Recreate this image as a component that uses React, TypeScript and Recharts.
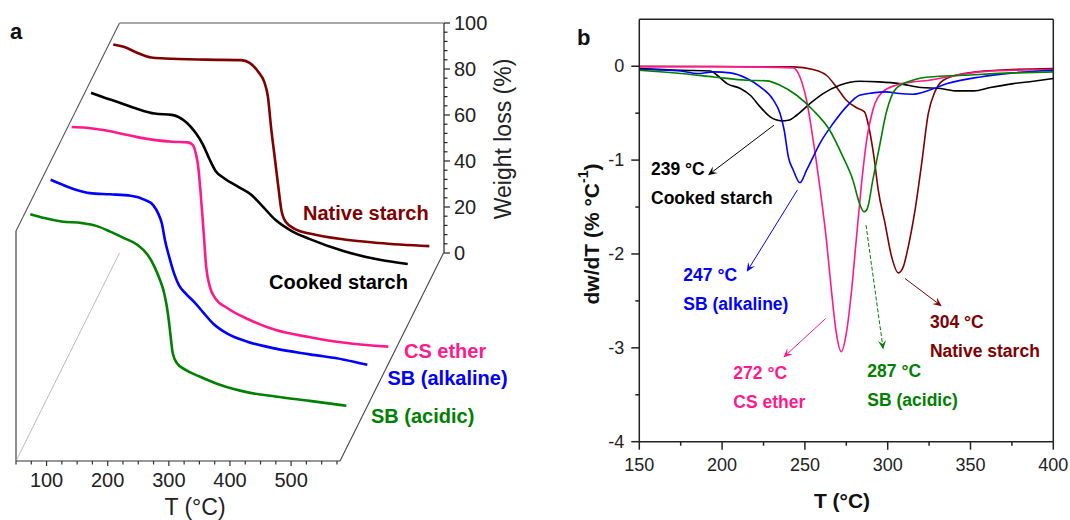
import React from 'react';
import { LineChart, Line, XAxis, YAxis, ReferenceLine, ReferenceDot } from 'recharts';

const FONT = "'Liberation Sans', Arial, sans-serif";

// ---- panel a: TGA curves, [T (°C), weight (%)] ----
const tgaNative = [[57, 99.8], [74, 98.8], [97, 96.1], [119, 94.1], [142, 93.7], [209, 93.2], [266, 93], [280, 91.8], [294, 87.9], [304, 83.5], [310, 77], [315, 64], [321, 50.9], [327, 37.9], [332, 27.7], [339, 22.7], [356, 19.3], [378, 17.6], [435, 15], [491, 13.5], [574, 12.1]];
const tgaCooked = [[55, 96.6], [74, 94.8], [103, 92.2], [131, 89.6], [159, 87.6], [187, 87], [198, 86.1], [212, 83.5], [226, 79.2], [238, 74.1], [249, 67.6], [259, 62.5], [272, 59.6], [294, 56], [317, 52.3], [333, 48], [356, 41.5], [384, 36.4], [412, 33.1], [469, 27.7], [525, 24.1], [573, 22.2]];
const tgaEther = [[56, 100], [80, 99.7], [108, 98.7], [136, 97.2], [165, 95.5], [193, 94.3], [221, 93.6], [246, 93.3], [254, 92.2], [259, 88.6], [263, 82.8], [267, 71.2], [272, 53.8], [276, 39.3], [282, 30.6], [291, 25.5], [311, 21.2], [345, 16.4], [390, 11.7], [446, 8.6], [503, 6.2], [574, 4.5]];
const tgaAlkaline = [[56, 95.3], [74, 93.3], [97, 91], [120, 89.5], [153, 89], [187, 88.4], [210, 86.6], [224, 84.2], [232, 80.6], [238, 76.2], [243, 69], [250, 61.7], [258, 54.5], [266, 49.4], [277, 45.8], [291, 42.1], [305, 37.8], [322, 32.7], [345, 28.4], [379, 24.8], [424, 21.9], [480, 19.4], [536, 17.1], [574, 14.9]];
const tgaAcidic = [[57, 98.2], [80, 96.5], [108, 95], [142, 94.3], [165, 93.1], [187, 90.7], [210, 87.8], [232, 84.9], [249, 80.5], [260, 75.4], [269, 69.7], [276, 63.9], [282, 55.2], [286, 46.5], [290, 37.8], [297, 33.4], [311, 30.5], [334, 27.6], [367, 24], [413, 20.7], [458, 18.9], [514, 17], [574, 14.9]];

// ---- panel b: DTG curves, [T (°C), dw/dT (% °C-1)] ----
const dtgNative = [[150, 0], [243, -0.007], [255, -0.035], [263, -0.096], [269, -0.22], [275, -0.362], [281, -0.44], [286, -0.486], [289, -0.682], [291.7, -0.966], [294.3, -1.321], [298.4, -1.676], [302.4, -2.031], [306.4, -2.201], [309.4, -2.137], [312.4, -1.924], [316.5, -1.534], [320.5, -1.037], [324.5, -0.504], [328.5, -0.273], [333.6, -0.149], [346, -0.078], [366, -0.043], [400, -0.025]];
const dtgCooked = [[150, -0.025], [175, -0.043], [193, -0.05], [197, -0.096], [203, -0.185], [211, -0.238], [217, -0.309], [223, -0.433], [229, -0.54], [236, -0.582], [240, -0.575], [245, -0.522], [253, -0.398], [261, -0.291], [271, -0.202], [283, -0.16], [295, -0.167], [307, -0.185], [320, -0.227], [332, -0.238], [342, -0.263], [352, -0.263], [362, -0.227], [376, -0.185], [388, -0.16], [400, -0.131]];
const dtgEther = [[150, -0.007], [195, -0.004], [243, -0.018], [247, -0.114], [251, -0.362], [255, -0.788], [259, -1.285], [263, -1.853], [266, -2.386], [269, -2.847], [272, -3.042], [275, -2.847], [278, -2.421], [281, -1.853], [284, -1.285], [287, -0.824], [291, -0.469], [297, -0.273], [305, -0.202], [315, -0.167], [325, -0.149], [336, -0.114], [356, -0.06], [376, -0.043], [400, -0.035]];
const dtgAlkaline = [[150, -0.035], [175, -0.05], [185, -0.078], [195, -0.06], [205, -0.071], [215, -0.131], [223, -0.22], [231, -0.362], [235, -0.504], [237.5, -0.682], [240, -0.966], [243, -1.108], [247, -1.242], [251, -1.108], [255, -0.966], [259, -0.824], [267, -0.611], [275, -0.433], [283, -0.309], [291, -0.284], [299, -0.273], [307, -0.291], [315, -0.298], [325, -0.256], [336, -0.185], [356, -0.114], [376, -0.071], [400, -0.043]];
const dtgAcidic = [[150, -0.043], [175, -0.078], [195, -0.114], [215, -0.149], [227, -0.156], [235, -0.202], [245, -0.309], [255, -0.469], [265, -0.682], [273, -0.966], [279, -1.214], [283, -1.463], [285.7, -1.551], [287.7, -1.516], [291, -1.214], [295, -0.859], [299, -0.504], [305, -0.238], [315, -0.149], [325, -0.114], [346, -0.096], [376, -0.071], [400, -0.06]];

const seriesNames = ['Native starch', 'Cooked starch', 'CS ether', 'SB (alkaline)', 'SB (acidic)'];
const seriesColors = ['#800000', '#000000', '#ff1a8c', '#0000ff', '#008000'];
const peakTemps = ['304 °C', '239 °C', '272 °C', '247 °C', '287 °C'];

const tgaSeries = [tgaNative, tgaCooked, tgaEther, tgaAlkaline, tgaAcidic];
const dtgSeries = [dtgNative, dtgCooked, dtgEther, dtgAlkaline, dtgAcidic];

const tgaTempTicks = [50, 75, 100, 125, 150, 175, 200, 225, 250, 275, 300, 325, 350, 375, 400, 425, 450, 475, 500, 525, 550, 575];
const tgaWeightTicks = [0, 4, 8, 12, 16, 20, 24, 28, 32, 36, 40, 44, 48, 52, 56, 60, 64, 68, 72, 76, 80, 84, 88, 92, 96, 100];
const dtgTempTicks = [150, 175, 200, 225, 250, 275, 300, 325, 350, 375, 400];
const dtgValueTicks = [-4, -3.5, -3, -2.5, -2, -1.5, -1, -0.5, 0];

// ---- layout (pixels) ----
const A = { left: 16, top: 231, w: 324, h: 230, depthX: 103.5, depthY: 208 };
const tgaDepth = [0.9, 0.7, 0.5, 0.3, 0.1];
const tgaLabelPos = [[303, 212.5], [269, 281.7], [404, 350.7], [387.5, 378.3], [371, 416]];

// DTG annotations in data coordinates: text anchor, arrow start, arrow end
const dtgNotes = [
  { text: [325.5, -2.723], from: [310.4, -2.261], to: [332.6, -2.556], dashed: false },
  { text: [157.1, -1.097], from: [231.3, -0.628], to: [191.5, -1.161], dashed: false },
  { text: [206.8, -3.273], from: [262.6, -2.687], to: [237, -3.102], dashed: false },
  { text: [176.6, -2.226], from: [245.4, -1.32], to: [214.9, -2.19], dashed: false },
  { text: [287.7, -3.245], from: [286.9, -1.693], to: [297.3, -3.017], dashed: true },
];

const rows = (pts: number[][]) => pts.map(([t, v]) => ({ t, v }));

const frontTick = (p: any) => {
  const v = p.payload.value;
  const lab = v % 100 === 0;
  return (
    <g>
      <line x1={p.x} x2={p.x} y1={p.y} y2={p.y + (lab ? 5 : 3.5)} stroke="#333" strokeWidth={1.2} />
      {lab && (
        <text x={p.x} y={p.y + 19} textAnchor="middle" dominantBaseline="central" fontSize={20} fontFamily={FONT} fill="#222">{v}</text>
      )}
    </g>
  );
};

const weightTick = (p: any) => {
  const v = p.payload.value;
  const major = v % 20 === 0;
  return (
    <g>
      <line x1={p.x} x2={p.x + (major ? 6 : 3.5)} y1={p.y} y2={p.y} stroke="#222" strokeWidth={1.2} />
      {major && (
        <text x={p.x + 10} y={p.y} textAnchor="start" dominantBaseline="central" fontSize={20} fontFamily={FONT} fill="#222">{v}</text>
      )}
    </g>
  );
};

const dtgXTick = (p: any) => {
  const v = p.payload.value;
  const major = v % 50 === 0;
  return (
    <g>
      <line x1={p.x} x2={p.x} y1={p.y} y2={p.y + (major ? 8 : 4)} stroke="#222" strokeWidth={1.5} />
      {major && (
        <text x={p.x} y={p.y + 23} textAnchor="middle" dominantBaseline="central" fontSize={18} fontFamily={FONT} fill="#222">{v}</text>
      )}
    </g>
  );
};

const dtgYTick = (p: any) => {
  const v = p.payload.value;
  const major = Number.isInteger(v);
  return (
    <g>
      <line x1={p.x - (major ? 8 : 4)} x2={p.x} y1={p.y} y2={p.y} stroke="#222" strokeWidth={1.5} />
      {major && (
        <text x={p.x - 15} y={p.y} textAnchor="end" dominantBaseline="central" fontSize={18} fontFamily={FONT} fill="#222">{String(v)}</text>
      )}
    </g>
  );
};

const arrowShape = (color: string, dashed: boolean) => (p: any) => {
  const { x1, y1, x2, y2 } = p;
  const ang = Math.atan2(y2 - y1, x2 - x1);
  const L = 9, W = 4;
  const bx = x2 - L * Math.cos(ang), by = y2 - L * Math.sin(ang);
  const nx = x2 - 0.6 * L * Math.cos(ang), ny = y2 - 0.6 * L * Math.sin(ang);
  const px = -Math.sin(ang) * W, py = Math.cos(ang) * W;
  return (
    <g>
      <line x1={x1} y1={y1} x2={nx} y2={ny} stroke={color} strokeWidth={1} strokeDasharray={dashed ? '4 2' : undefined} />
      <path d={`M${x2},${y2}L${bx + px},${by + py}L${nx},${ny}L${bx - px},${by - py}Z`} fill={color} />
    </g>
  );
};

const noteShape = (i: number) => (p: any) => (
  <text x={p.cx} y={p.cy} fontSize={17.5} fontWeight="bold" fontFamily={FONT} fill={seriesColors[i]} dominantBaseline="central">
    <tspan x={p.cx}>{peakTemps[i]}</tspan>
    <tspan x={p.cx} dy={29}>{seriesNames[i]}</tspan>
  </text>
);

function Overlay() {
  const c = {
    flt: [A.left, A.top],
    flb: [A.left, A.top + A.h],
    frb: [A.left + A.w, A.top + A.h],
    blt: [A.left + A.depthX, A.top - A.depthY],
    brt: [A.left + A.w + A.depthX, A.top - A.depthY],
    brb: [A.left + A.w + A.depthX, A.top + A.h - A.depthY],
    blb: [A.left + A.depthX, A.top + A.h - A.depthY],
  };
  const seg = (a: number[], b: number[], stroke: string, w: number) => (
    <line x1={a[0]} y1={a[1]} x2={b[0]} y2={b[1]} stroke={stroke} strokeWidth={w} />
  );
  return (
    <svg width={1070} height={520} style={{ position: 'absolute', left: 0, top: 0 }} fontFamily={FONT}>
      {seg(c.flt, c.flb, '#444', 1.2)}
      {seg(c.flt, c.blt, '#555', 1.1)}
      {seg(c.blt, c.brt, '#8a8a8a', 1.4)}
      {seg(c.brb, c.frb, '#444', 1.1)}
      {seg(c.blb, c.flb, '#aaa', 0.8)}
      <text x={10} y={39} fontSize={22} fontWeight="bold" fill="#111">a</text>
      <text x={577} y={45} fontSize={22} fontWeight="bold" fill="#111">b</text>
      {tgaLabelPos.map(([x, y], i) => (
        <text key={i} x={x} y={y} fontSize={20} fontWeight="bold" fill={seriesColors[i]} dominantBaseline="central">{seriesNames[i]}</text>
      ))}
      <text x={195} y={507} fontSize={23} fill="#222" textAnchor="middle" dominantBaseline="central">T (°C)</text>
      <text x={503} y={139} fontSize={23} fill="#222" textAnchor="middle" dominantBaseline="central" transform="rotate(-90 503 139)">Weight loss (%)</text>
      <text x={842} y={500} fontSize={21} fontWeight="bold" fill="#111" textAnchor="middle" dominantBaseline="central">T (°C)</text>
      <text x={591} y={234} fontSize={21} fontWeight="bold" fill="#111" textAnchor="middle" dominantBaseline="central" transform="rotate(-90 591 234)">
        dw/dT (% °C<tspan dy={-8} fontSize={14}>-1</tspan><tspan dy={8}>)</tspan>
      </text>
    </svg>
  );
}

function PanelA() {
  const PAD = 6;
  const BP = 14;
  return (
    <>
      {/* back plane: weight axis */}
      <div style={{ position: 'absolute', left: A.left + A.depthX - BP, top: A.top - A.depthY - BP }}>
        <LineChart width={A.w + BP + 60} height={A.h + 2 * BP} margin={{ top: BP, right: 0, bottom: BP, left: BP }} data={rows(tgaNative)}>
          <XAxis hide type="number" dataKey="t" domain={[50, 580]} />
          <YAxis
            orientation="right"
            type="number"
            domain={[0, 100]}
            ticks={tgaWeightTicks}
            interval={0}
            tickLine={false}
            tickSize={0}
            tickMargin={0}
            axisLine={{ stroke: '#222', strokeWidth: 1.2 }}
            width={60}
            tick={weightTick}
          />
          <Line dataKey="v" stroke="none" dot={false} activeDot={false} isAnimationActive={false} />
        </LineChart>
      </div>
      {/* curves, back to front */}
      {tgaSeries.map((pts, i) => (
        <div key={i} style={{ position: 'absolute', left: A.left + A.depthX * tgaDepth[i] - PAD, top: A.top - A.depthY * tgaDepth[i] - PAD }}>
          <LineChart width={A.w + 2 * PAD} height={A.h + 2 * PAD} margin={{ top: PAD, right: PAD, bottom: PAD, left: PAD }} data={rows(pts)}>
            <XAxis hide type="number" dataKey="t" domain={[50, 580]} />
            <YAxis hide type="number" domain={[0, 100]} />
            <Line type="monotone" dataKey="v" stroke={seriesColors[i]} strokeWidth={2.6} dot={false} isAnimationActive={false} />
          </LineChart>
        </div>
      ))}
      {/* front plane: temperature axis */}
      <div style={{ position: 'absolute', left: A.left - PAD, top: A.top }}>
        <LineChart width={A.w + 2 * PAD} height={A.h + 60} margin={{ top: 0, right: PAD, bottom: 0, left: PAD }} data={rows(tgaAcidic)}>
          <XAxis
            type="number"
            dataKey="t"
            domain={[50, 580]}
            ticks={tgaTempTicks}
            interval={0}
            tickLine={false}
            tickSize={0}
            tickMargin={0}
            axisLine={{ stroke: '#333', strokeWidth: 1.2 }}
            height={60}
            tick={frontTick}
          />
          <YAxis hide type="number" domain={[0, 100]} />
        </LineChart>
      </div>
    </>
  );
}

function PanelB() {
  return (
    <div style={{ position: 'absolute', left: 560, top: 0 }}>
      <LineChart width={510} height={520} margin={{ top: 19.3, right: 16.7, bottom: 18.3, left: 19.3 }}>
        <XAxis
          type="number"
          dataKey="t"
          domain={[150, 400]}
          ticks={dtgTempTicks}
          interval={0}
          tickLine={false}
          tickSize={0}
          tickMargin={0}
          axisLine={{ stroke: '#222', strokeWidth: 1.5 }}
          height={60}
          tick={dtgXTick}
        />
        <YAxis
          type="number"
          domain={[-4, 0.5]}
          ticks={dtgValueTicks}
          interval={0}
          tickLine={false}
          tickSize={0}
          tickMargin={0}
          axisLine={{ stroke: '#222', strokeWidth: 1.5 }}
          width={60}
          tick={dtgYTick}
        />
        <ReferenceLine y={0.5} stroke="#222" strokeWidth={1.5} />
        <ReferenceLine x={400} stroke="#222" strokeWidth={1.5} />
        {dtgSeries.map((pts, i) => (
          <Line key={i} data={rows(pts)} type="monotone" dataKey="v" stroke={seriesColors[i]} strokeWidth={1.6} dot={false} isAnimationActive={false} />
        ))}
        {dtgNotes.map((n, i) => (
          <ReferenceLine
            key={`a${i}`}
            segment={[{ x: n.from[0], y: n.from[1] }, { x: n.to[0], y: n.to[1] }]}
            stroke={seriesColors[i]}
            shape={arrowShape(seriesColors[i], n.dashed)}
          />
        ))}
        {dtgNotes.map((n, i) => (
          <ReferenceDot key={`t${i}`} x={n.text[0]} y={n.text[1]} r={0} shape={noteShape(i)} />
        ))}
      </LineChart>
    </div>
  );
}

export default function App() {
  return (
    <div style={{ position: 'absolute', left: 0, top: 0, width: 1070, height: 520, background: '#fff', fontFamily: FONT }}>
      <Overlay />
      <PanelA />
      <PanelB />
    </div>
  );
}
